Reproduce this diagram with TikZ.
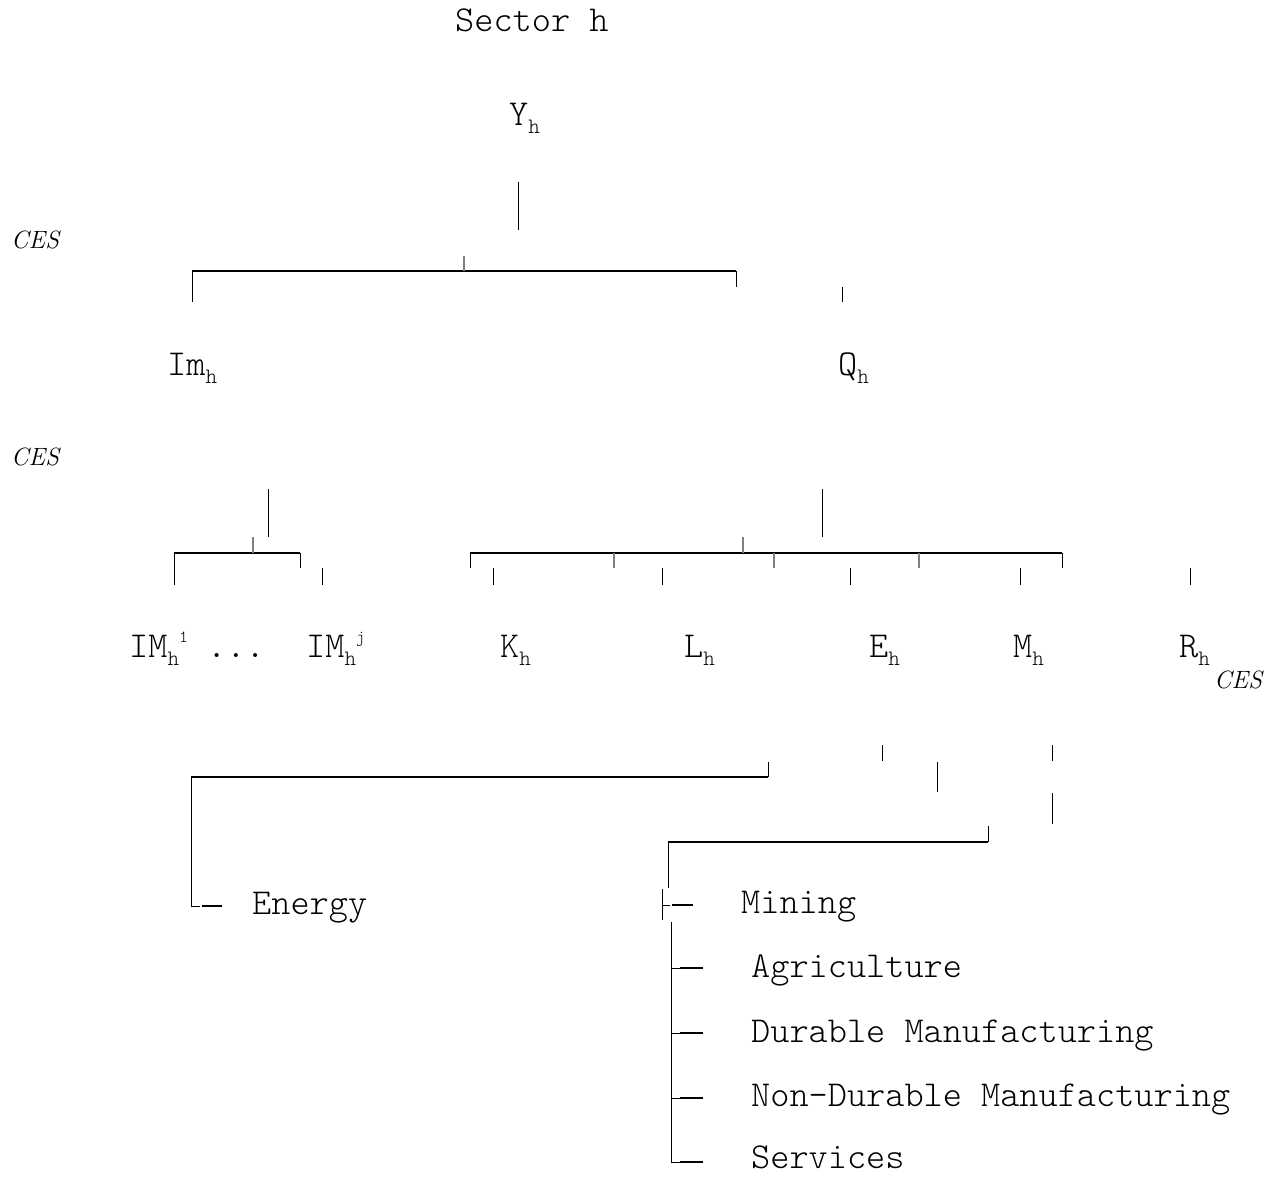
\documentclass[tikz,border=0pt]{standalone}
\usepackage{fontspec}
\newfontfamily\monolt{Latin Modern Mono Light}
\newcommand{\lowh}{\raisebox{-8pt}{\fontsize{22}{22}\selectfont h}}
\newcommand{\upidx}[1]{\raisebox{15pt}{\fontsize{17}{17}\selectfont #1}}
\tikzset{nestp/.style={x=1pt,y=-1pt}}
\tikzset{bar/.style={line width=2.2pt}}
\tikzset{stem/.style={line width=0.9pt}}
\tikzset{jct/.style={gray,line width=1.6pt}}
\tikzset{dsh/.style={line width=1.5pt}}
\tikzset{lbl/.style={anchor=base west,inner sep=0pt,font=\fontsize{36.5}{36.5}\selectfont\monolt}}
\tikzset{ces/.style={anchor=base west,inner sep=0pt,font=\fontsize{25}{25}\selectfont\itshape}}
\begin{document}
\begin{tikzpicture}[nestp]
  \useasboundingbox (0,0) rectangle (1273,1178);

  % Top level
  \node[lbl] (sec) at (455,31) {Sector h};
  \node[lbl] (y) at (509,125) {Y\lowh};
  \node[ces] (ces1) at (11,248) {CES};
  \draw[stem] (518,182) -- (518,230);
  \draw[bar] (192,271) -- (736,271);
  \draw[stem] (192,271) -- (192,302);
  \draw[stem] (736,271) -- (736,287);
  \draw[jct] (464,256) -- (464,271);
  \draw[stem] (842,287) -- (842,302);

  % Imports and domestic nest
  \node[lbl] (im) at (167,375) {Im\lowh};
  \node[lbl] (q) at (838,375) {Q\lowh};
  \node[ces] (ces2) at (11,465) {CES};
  \draw[stem] (268,489) -- (268,537);
  \draw[bar] (174,553) -- (300,553);
  \draw[stem] (174,553) -- (174,585);
  \draw[stem] (300,553) -- (300,568);
  \draw[jct] (253,537) -- (253,553);
  \draw[stem] (322,568) -- (322,585);
  \draw[stem] (822,489) -- (822,537);
  \draw[bar] (470,553) -- (1062,553);
  \draw[stem] (470,553) -- (470,568);
  \draw[stem] (1062,553) -- (1062,568);
  \draw[jct] (743,537) -- (743,553);
  \foreach \x in {614,774,919}
    \draw[jct] (\x,553) -- (\x,568);
  \foreach \x in {493,662,850,1020,1190}
    \draw[stem] (\x,568) -- (\x,585);

  % Inputs
  \node[lbl] (imf) at (129,657) {IM\lowh\upidx{1}};
  \node[lbl] (dots) at (207,657) {...};
  \node[lbl] (iml) at (306,657) {IM\lowh\upidx{j}};
  \node[lbl] (k) at (500,657) {K\lowh};
  \node[lbl] (l) at (684,657) {L\lowh};
  \node[lbl] (e) at (869,657) {E\lowh};
  \node[lbl] (m) at (1013,657) {M\lowh};
  \node[lbl] (r) at (1179,657) {R\lowh};
  \node[ces] (ces3) at (1214,688) {CES};

  % Energy branch
  \draw[stem] (882,745) -- (882,761);
  \draw[stem] (1052,745) -- (1052,761);
  \draw[bar] (191,777) -- (768,777);
  \draw[stem] (768,762) -- (768,777);
  \draw[stem] (191,777) -- (191,906) -- (200,906);
  \draw[dsh] (202,906) -- (222,906);
  \node[lbl] (en) at (252,914) {Energy};

  % Materials branch
  \draw[stem] (937,762) -- (937,792);
  \draw[stem] (1052,793) -- (1052,824);
  \draw[bar] (668,842) -- (988,842);
  \draw[stem] (988,826) -- (988,842);
  \draw[stem] (668,842) -- (668,888);
  \draw[stem] (662,889) -- (662,920);
  \draw[stem] (662,905) -- (670,905);
  \draw[dsh] (672,905) -- (693,905);
  \node[lbl] (mi) at (741,913) {Mining};
  \draw[stem] (671,922) -- (671,1162);
  \foreach \y in {968,1033,1098,1162} {
    \draw[stem] (671,\y) -- (680,\y);
    \draw[dsh] (680,\y) -- (703,\y);
  }
  \node[lbl] (ag) at (751,977) {Agriculture};
  \node[lbl] (dm) at (751,1042) {Durable Manufacturing};
  \node[lbl] (nd) at (751,1106) {Non-Durable Manufacturing};
  \node[lbl] (sv) at (751,1168) {Services};
\end{tikzpicture}
\end{document}
